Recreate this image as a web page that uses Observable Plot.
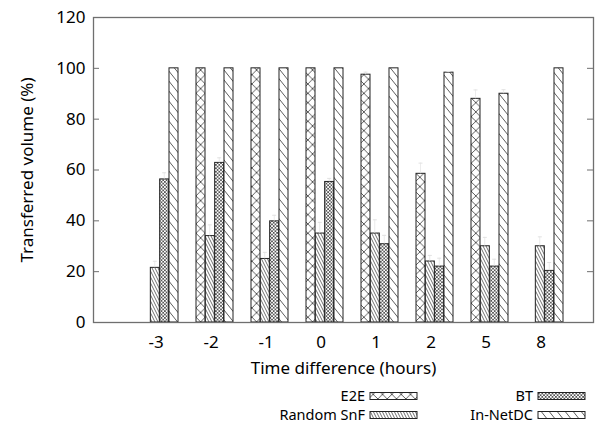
<!DOCTYPE html>
<html><head><meta charset="utf-8">
<script src="https://cdn.jsdelivr.net/npm/d3@7"></script>
<script src="https://cdn.jsdelivr.net/npm/@observablehq/plot@0.6"></script>
<style>
body{margin:0;background:#fff;font-family:"Noto Sans",sans-serif}
#chart svg{display:block}
</style>
</head><body><div id="chart"></div>
<script>
// ---- data ----
const groups = ["-3", "-2", "-1", "0", "1", "2", "5", "8"];
const seriesNames = ["E2E", "Random SnF", "BT", "In-NetDC"];
const e2e       = [0, 100, 100, 100, 97.5, 58.5, 88, 0];
const randomSnF = [21.5, 34, 25, 35, 35, 24, 30, 30];
const bt        = [56.3, 62.8, 39.8, 55.3, 30.8, 22, 22, 20.3];
const inNetDC   = [100, 100, 100, 100, 100, 98.3, 90, 100];
const e2eErr       = [0, 0, 0, 0, 1, 4.2, 3.5, 0];
const randomSnFErr = [2.6, 4.4, 2.6, 4.4, 5.4, 2.4, 3.5, 3.7];
const btErr        = [2.6, 2, 2.4, 1.4, 3.5, 3.3, 2.9, 3.3];
const inNetDCErr   = [0, 0, 0, 0, 0, 0.5, 1.6, 0];
const yTicks = [0, 20, 40, 60, 80, 100, 120];
const xLabel = "Time difference (hours)";
const yLabel = "Transferred volume (%)";

const values = [e2e, randomSnF, bt, inNetDC];
const errs = [e2eErr, randomSnFErr, btErr, inNetDCErr];
const rows = [];
seriesNames.forEach((s, k) => groups.forEach((g, i) => rows.push({group: g, series: s, k, value: values[k][i], err: errs[k][i]})));

// ---- layout ----
const W = 600, H = 385, mL = 93, mR = 7, mT = 17, mB = 63;
const xOpts = {paddingInner: 1/3, paddingOuter: 0.631, align: 0.608};
const bw = d3.scaleBand().domain(groups).range([mL, W - mR])
  .paddingInner(xOpts.paddingInner).paddingOuter(xOpts.paddingOuter).align(xOpts.align).bandwidth() / 4;
const plotW = W - mL - mR;

function addPatterns(svg, prefix) {
  const defs = svg.insert("defs", ":first-child");
  const ink = "#333";
  function pat(id, w, h, lines, sw) {
    const p = defs.append("pattern").attr("id", prefix + id).attr("patternUnits", "userSpaceOnUse")
      .attr("width", w).attr("height", h);
    p.append("rect").attr("width", w).attr("height", h).attr("fill", "#fff");
    lines.forEach(([x1, y1, x2, y2]) => p.append("line").attr("x1", x1).attr("y1", y1).attr("x2", x2).attr("y2", y2)
      .attr("stroke", ink).attr("stroke-width", sw));
  }
  const a = 9.33;
  pat("0", a, a, [[0, 0, a, a], [a, 0, 0, a], [-a, 0, 0, a], [a, 0, 2*a, a], [0, -a, a, 0], [0, a, a, 2*a], [a, -a, 0, 0], [a, a, 0, 2*a]], 0.8);
  pat("1", 3, 6, [[-3, -6, 6, 12], [-6, -6, 3, 12], [0, -6, 9, 12]], 0.7);
  const b = 3.4;
  pat("2", b, b, [[-b, -b, 2*b, 2*b], [2*b, -b, -b, 2*b], [-2*b, -b, b, 2*b], [0, -b, 3*b, 2*b], [3*b, -b, 0, 2*b], [b, -b, -2*b, 2*b]], 0.7);
  pat("3", 8, 10, [[-8, -10, 16, 20], [-16, -10, 8, 20], [0, -10, 24, 20]], 0.8);
}

const marks = [];
seriesNames.forEach((s, k) => {
  const data = rows.filter(d => d.k === k && d.value > 0);
  const li = k * bw, ri = (3 - k) * bw;
  marks.push(Plot.barY(data, {x: "group", y: "value", fill: `url(#pt${k})`, stroke: "#222", strokeWidth: 1, insetLeft: li, insetRight: ri}));
  const ed = data.filter(d => d.err > 0);
  marks.push(Plot.barY(ed, {x: "group", y1: "value", y2: d => d.value + d.err, fill: "#e2e2e2", insetLeft: li + bw/2 - 0.5, insetRight: ri + bw/2 - 0.5}));
  marks.push(Plot.tickY(ed, {x: "group", y: d => d.value + d.err, stroke: "#e2e2e2", strokeWidth: 1, insetLeft: li + 2.5, insetRight: ri + 2.5}));
});

const chart = Plot.plot({
  width: W, height: H,
  marginLeft: mL, marginRight: mR, marginTop: mT, marginBottom: mB,
  style: {fontFamily: "Noto Sans", fontSize: "17px", color: "#000", background: "#fff"},
  x: {type: "band", domain: groups, ...xOpts},
  y: {domain: [0, 120]},
  marks: [
    ...marks,
    Plot.frame({stroke: "#6f6f6f", strokeWidth: 1.3}),
    Plot.tickY(yTicks, {y: d => d, stroke: "#6f6f6f", insetRight: plotW - 6}),
    Plot.tickY(yTicks, {y: d => d, stroke: "#6f6f6f", insetLeft: plotW - 6}),
    Plot.axisY({ticks: yTicks, tickSize: 0, tickPadding: 8, label: null, fontSize: 17}),
    Plot.axisX({tickSize: 0, tickPadding: 13, dx: -4, label: null, fontSize: 17}),
    Plot.text([xLabel], {frameAnchor: "bottom", lineAnchor: "middle", textAnchor: "middle", dy: 46, fontSize: 17}),
    Plot.text([yLabel], {frameAnchor: "left", textAnchor: "middle", lineAnchor: "middle", dx: -66, rotate: -90, fontSize: 17})
  ]
});
addPatterns(d3.select(chart), "pt");
document.getElementById("chart").append(chart);

// ---- legend (below the plot) ----
const lg = d3.select("#chart").append("svg").attr("width", W).attr("height", 425 - H)
  .style("display", "block").style("font-family", "Noto Sans").style("font-size", "14.5px");
addPatterns(lg, "lg");
const cols = [{tx: 365, sx: 370}, {tx: 533, sx: 538}];
const rowsY = [11, 30];
const order = [[0, 0, 0], [1, 0, 1], [2, 1, 0], [3, 1, 1]]; // k, col, row
order.forEach(([k, c, r]) => {
  lg.append("text").attr("x", cols[c].tx).attr("y", rowsY[r]).attr("text-anchor", "end").attr("dy", "0.35em").text(seriesNames[k]);
  lg.append("rect").attr("x", cols[c].sx).attr("y", rowsY[r] - 3.5).attr("width", 47).attr("height", 7)
    .attr("fill", `url(#lg${k})`).attr("stroke", "#222").attr("stroke-width", 1);
});
</script>
</body></html>
